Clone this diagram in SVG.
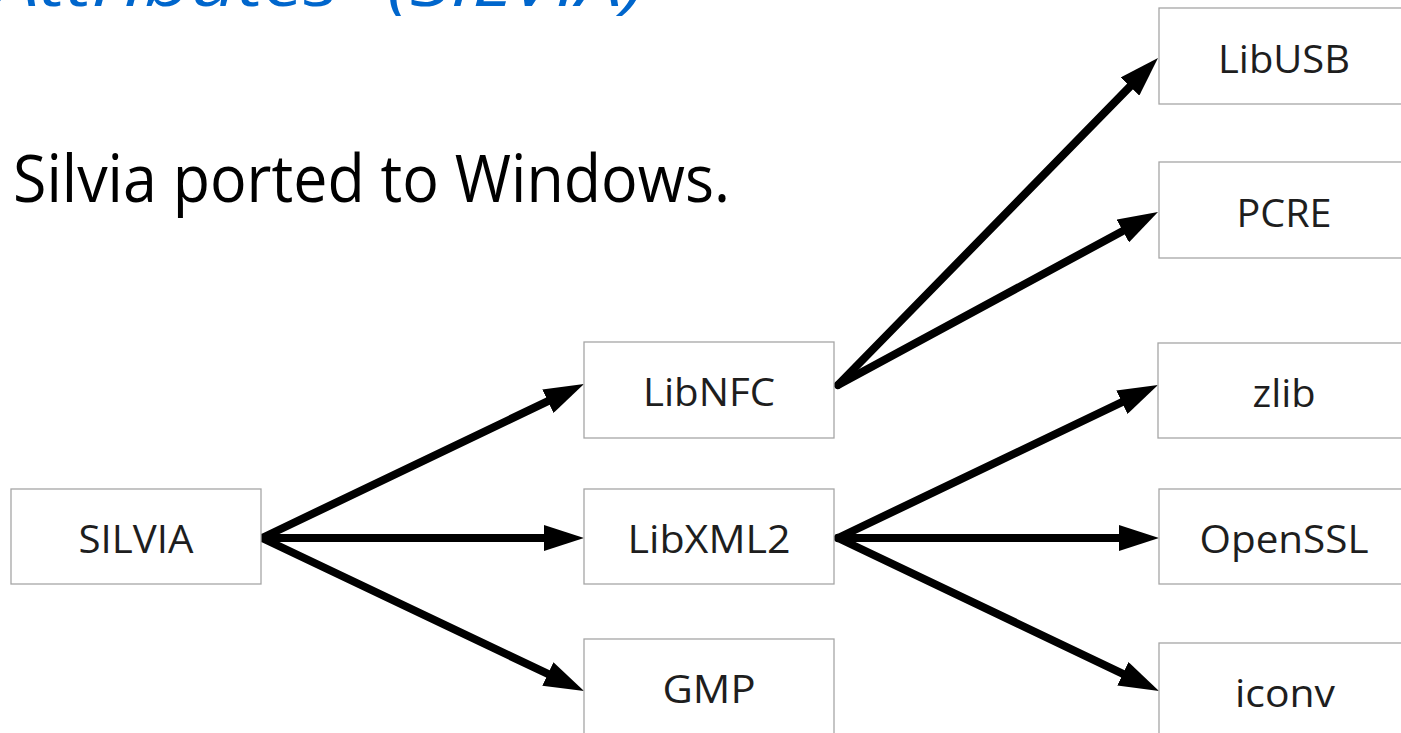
<svg xmlns="http://www.w3.org/2000/svg" width="1401" height="733" viewBox="0 0 1401 733">
<style>
.box{fill:#ffffff;stroke:#a6a6a6;stroke-width:1.3}
.lbl{font-family:"Open Sans","Noto Sans","DejaVu Sans",sans-serif;font-size:38px;fill:#1e1e1e;text-anchor:middle}
.con{stroke:#000;stroke-width:8;fill:none;stroke-linecap:round;marker-end:url(#ah)}
</style>
<defs>
<marker id="ah" markerUnits="userSpaceOnUse" markerWidth="40" markerHeight="26" viewBox="0 0 40 26" refX="10" refY="13" orient="auto">
<path d="M0,0 L40,13 L0,26 z" fill="#000"/>
</marker>
</defs>
<rect width="1401" height="733" fill="#ffffff"/>
<text x="-6" y="6" font-family="'Open Sans','Noto Sans',sans-serif" font-style="italic" font-size="64" fill="#0066CC" textLength="651" lengthAdjust="spacingAndGlyphs">Attributes” (SILVIA)</text>
<text x="13" y="202" font-family="'Open Sans','Noto Sans',sans-serif" font-size="65" fill="#000" textLength="717" lengthAdjust="spacingAndGlyphs">Silvia ported to Windows.</text>
<g id="connectors">
<line class="con" x1="262" y1="538" x2="556.9" y2="396.9"/>
<line class="con" x1="262" y1="538" x2="554" y2="538"/>
<line class="con" x1="262" y1="538" x2="556.9" y2="678.2"/>
<line class="con" x1="838" y1="385" x2="1137" y2="79.4"/>
<line class="con" x1="838" y1="385" x2="1131.6" y2="226.2"/>
<line class="con" x1="838" y1="538" x2="1130.9" y2="397.9"/>
<line class="con" x1="838" y1="538" x2="1129" y2="538"/>
<line class="con" x1="838" y1="538" x2="1131.9" y2="678.1"/>
</g>
<g id="node-silvia"><rect class="box" x="11" y="489" width="250" height="95"/><text class="lbl" x="136" y="553" textLength="115" lengthAdjust="spacingAndGlyphs">SILVIA</text></g>
<g id="node-libnfc"><rect class="box" x="584" y="342" width="250" height="96"/><text class="lbl" x="709" y="406" textLength="132" lengthAdjust="spacingAndGlyphs">LibNFC</text></g>
<g id="node-libxml2"><rect class="box" x="584" y="489" width="250" height="95"/><text class="lbl" x="709" y="553" textLength="163" lengthAdjust="spacingAndGlyphs">LibXML2</text></g>
<g id="node-gmp"><rect class="box" x="584" y="639" width="250" height="96"/><text class="lbl" x="709" y="703" textLength="93" lengthAdjust="spacingAndGlyphs">GMP</text></g>
<g id="node-libusb"><rect class="box" x="1159" y="8" width="250" height="96"/><text class="lbl" x="1284" y="73" textLength="132" lengthAdjust="spacingAndGlyphs">LibUSB</text></g>
<g id="node-pcre"><rect class="box" x="1159" y="162" width="250" height="96"/><text class="lbl" x="1284" y="227" textLength="95" lengthAdjust="spacingAndGlyphs">PCRE</text></g>
<g id="node-zlib"><rect class="box" x="1158" y="343" width="250" height="95"/><text class="lbl" x="1284" y="407" textLength="63" lengthAdjust="spacingAndGlyphs">zlib</text></g>
<g id="node-openssl"><rect class="box" x="1159" y="489" width="250" height="95"/><text class="lbl" x="1284" y="553" textLength="169" lengthAdjust="spacingAndGlyphs">OpenSSL</text></g>
<g id="node-iconv"><rect class="box" x="1159" y="643" width="250" height="96"/><text class="lbl" x="1285" y="707" textLength="100" lengthAdjust="spacingAndGlyphs">iconv</text></g>
</svg>
